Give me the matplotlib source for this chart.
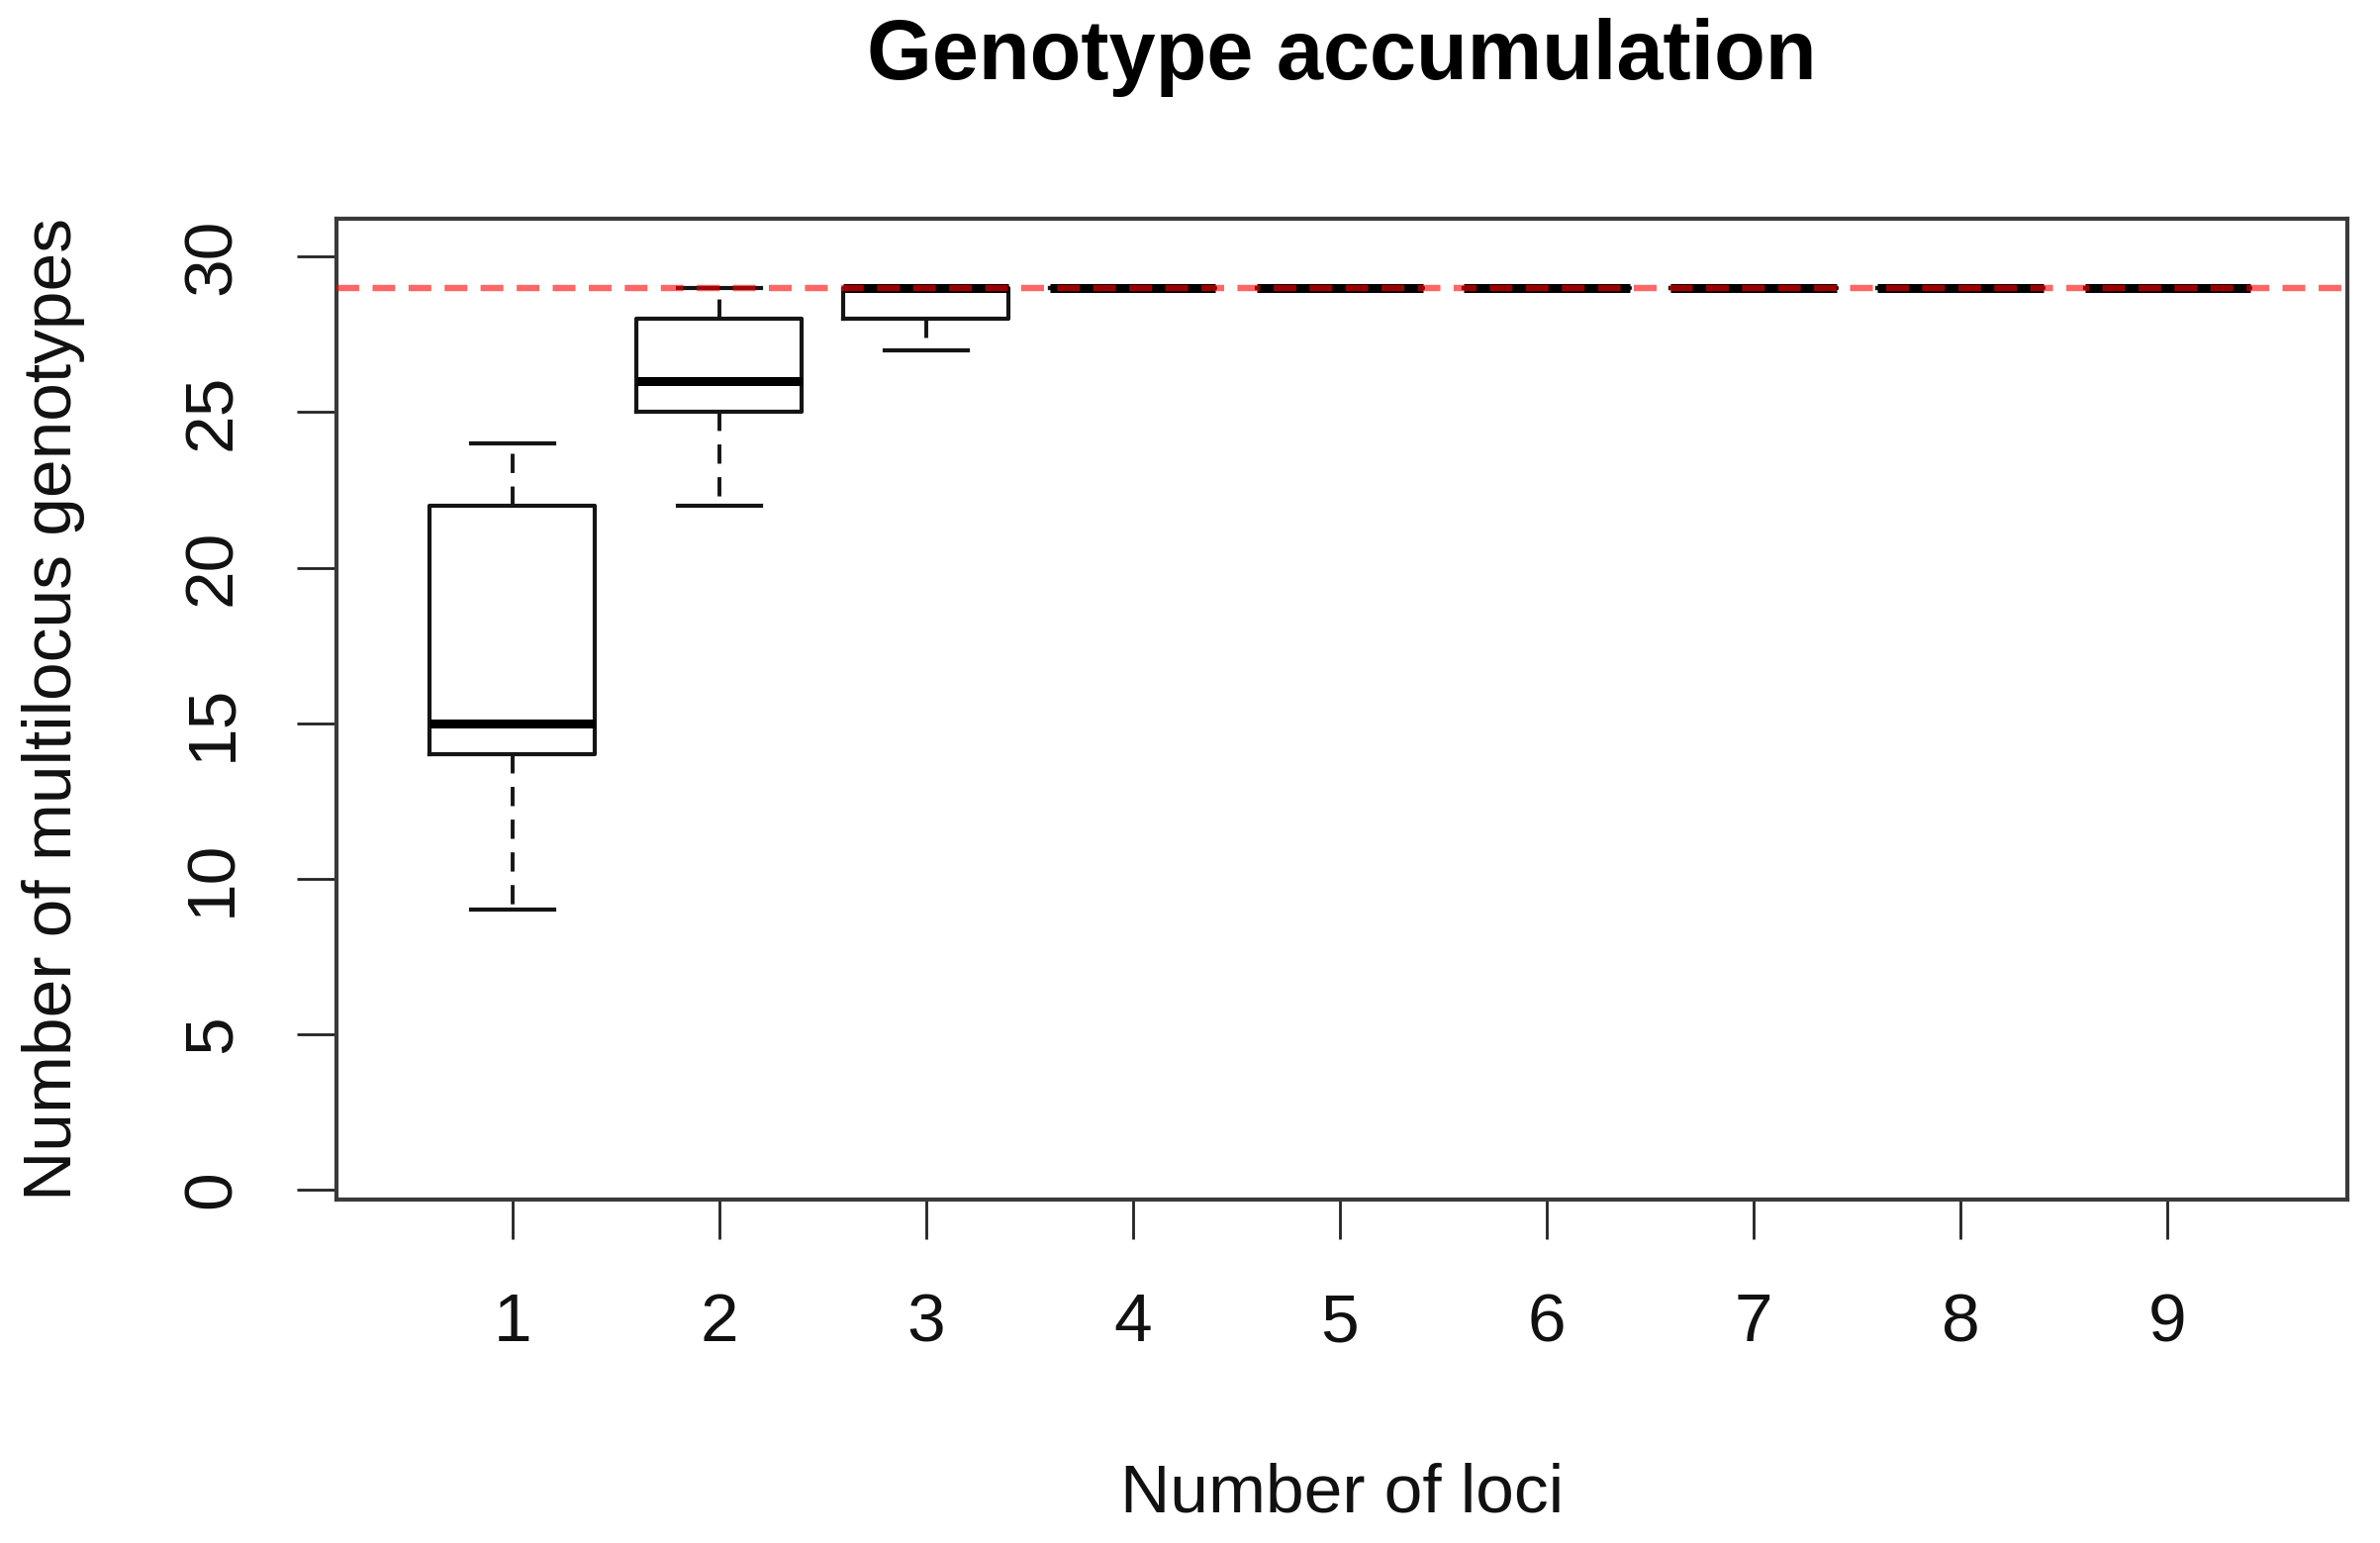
import matplotlib
matplotlib.use("Agg")
import matplotlib.pyplot as plt

# ---- data ----
loci = [1, 2, 3, 4, 5, 6, 7, 8, 9]
whisker_low = [9, 22, 27, 29, 29, 29, 29, 29, 29]
q1 = [14, 25, 28, 29, 29, 29, 29, 29, 29]
median = [15, 26, 29, 29, 29, 29, 29, 29, 29]
q3 = [22, 28, 29, 29, 29, 29, 29, 29, 29]
whisker_high = [24, 29, 29, 29, 29, 29, 29, 29, 29]
max_genotypes = 29
y_ticks = [0, 5, 10, 15, 20, 25, 30]

title = "Genotype accumulation"
xlabel = "Number of loci"
ylabel = "Number of multilocus genotypes"

plt.rcParams['font.family'] = ['Liberation Sans', 'DejaVu Sans']

W, H = 2405, 1559
fig = plt.figure(figsize=(W / 100, H / 100), dpi=100)
ax = fig.add_axes([340 / W, 1 - 1212 / H, (2372 - 340) / W, (1212 - 221) / H])

stats = []
for i in range(len(loci)):
    stats.append(dict(med=median[i], q1=q1[i], q3=q3[i],
                      whislo=whisker_low[i], whishi=whisker_high[i], fliers=[]))

ink = '#151515'
ax.bxp(stats, positions=loci, widths=0.8, capwidths=0.4, showfliers=False,
       patch_artist=False,
       boxprops=dict(color=ink, linewidth=3.0),
       medianprops=dict(color='black', linewidth=6.5, solid_capstyle='butt'),
       whiskerprops=dict(color=ink, linewidth=2.8, linestyle=(0, (5, 3.5))),
       capprops=dict(color=ink, linewidth=3.0))

ax.axhline(max_genotypes, color='#ff0000', alpha=0.6, linewidth=4.6,
           linestyle=(0, (3.6, 2.1)), zorder=5)

ax.set_xlim(0.15, 9.87)
ax.set_ylim(-0.32, 31.22)
ax.set_xticks(loci)
ax.set_xticklabels([str(v) for v in loci])
ax.set_yticks(y_ticks)
ax.set_yticklabels([str(v) for v in y_ticks], rotation=90, va='center')

for s in ax.spines.values():
    s.set_color('#3a3a3a')
    s.set_linewidth(3.0)

ax.tick_params(axis='both', length=29, width=2.0, color='#222222',
               labelsize=50, labelcolor='#111111', pad=38)

ax.set_xlabel(xlabel, fontsize=50, color='#111111', labelpad=78)
ax.set_ylabel(ylabel, fontsize=50, color='#111111', labelpad=70)

fig.text(1356 / W, 1 - 58 / H, title, ha='center', va='center',
         fontsize=61, fontweight='bold', color='black')

fig.savefig('out.png', dpi=100, facecolor='white')
